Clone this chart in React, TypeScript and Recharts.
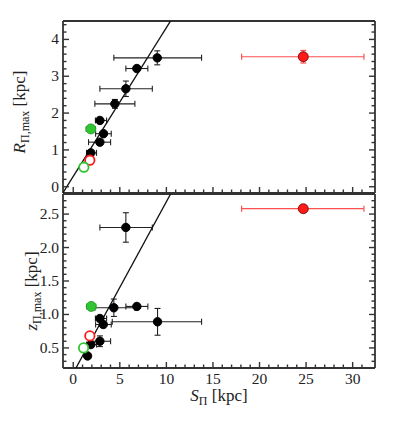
import { ErrorBar, Scatter, ScatterChart, XAxis, YAxis } from "recharts";

// S_Π [kpc] and R_Π,max [kpc], black galaxies (upper panel)
const topS = [9.02, 6.83, 5.65, 4.47, 2.86, 3.25, 2.86, 1.89];
const topSLo = [4.66, 1.18, 2.79, 2.15, 0.48, 0.85, 1.22, 0.46];
const topSHi = [4.76, 1.18, 2.84, 2.15, 0.72, 0.83, 1.15, 0.61];
const topR = [3.5, 3.21, 2.66, 2.25, 1.8, 1.44, 1.21, 0.92];
const topRErr = [0.19, 0.05, 0.21, 0.12, 0.05, 0.05, 0.05, 0.05];

// S_Π [kpc] and z_Π,max [kpc], black galaxies (lower panel)
const botS = [9.05, 6.83, 5.65, 4.36, 2.86, 3.22, 2.86, 1.89, 1.54];
const botSLo = [4.86, 1.18, 2.79, 2.04, 0.48, 0.82, 1.22, 0.46, 0.2];
const botSHi = [4.73, 1.18, 2.84, 2.26, 0.72, 0.86, 1.15, 0.61, 0.2];
const botZ = [0.89, 1.12, 2.3, 1.1, 0.94, 0.85, 0.6, 0.55, 0.38];
const botZErr = [0.2, 0.03, 0.22, 0.13, 0.03, 0.03, 0.08, 0.04, 0.02];

// special objects: [upper y, lower y], shared S
const greenFilledS = [1.89, 1.93];
const greenFilledY = [1.57, 1.12];
const redOpenS = [1.78, 1.78];
const redOpenY = [0.72, 0.68];
const greenOpenS = [1.14, 1.11];
const greenOpenY = [0.53, 0.5];
const redBigS = 24.7;
const redBigSLo = 6.62;
const redBigSHi = 6.51;
const redBigY = [3.53, 2.58];
const redBigYErr = [0.17, 0.02];

// fitted relations (slope, intercept)
const fitTop = [0.404, 0.28];
const fitBot = [0.256, 0.125];

const xDomain = [-1.1, 32.4];
const xTicks = Array.from({ length: 32 }, (_, i) => i);
const topTicks = Array.from({ length: 23 }, (_, i) => +(i * 0.2).toFixed(1));
const botTicks = Array.from({ length: 25 }, (_, i) => +(0.3 + i * 0.1).toFixed(1));

const FRAME = "#333";
const FONT = "'Liberation Serif', serif";
const GREEN = "#33c433";
const RED = "#ff1a1a";

const isMajor = (v: number, step: number) =>
  Math.abs(v / step - Math.round(v / step)) < 1e-6;

const xTick = (side: "top" | "bottom", labels: boolean) => (p: any) => {
  const v = p.payload.value;
  const major = isMajor(v, 5);
  const len = major ? 6 : 3.5;
  const dir = side === "bottom" ? -1 : 1;
  return (
    <g>
      <line x1={p.x} y1={p.y} x2={p.x} y2={p.y + dir * len} stroke={FRAME} strokeWidth={1.4} />
      {labels && major && (
        <text x={p.x} y={p.y + 16} textAnchor="middle" fontSize={15.5} fontFamily={FONT} fill="#222">
          {v}
        </text>
      )}
    </g>
  );
};

const yTick =
  (side: "left" | "right", step: number, fmt?: (v: number) => string) => (p: any) => {
    const v = p.payload.value;
    const major = isMajor(v, step);
    const len = major ? 6 : 3.5;
    const dir = side === "left" ? 1 : -1;
    return (
      <g>
        <line x1={p.x} y1={p.y} x2={p.x + dir * len} y2={p.y} stroke={FRAME} strokeWidth={1.4} />
        {fmt && major && (
          <text x={p.x - 4} y={p.y + 5} textAnchor="end" fontSize={15.5} fontFamily={FONT} fill="#222">
            {fmt(v)}
          </text>
        )}
      </g>
    );
  };

const dot = (r: number, fill: string, stroke: string, sw = 1) => (p: any) =>
  <circle cx={p.cx} cy={p.cy} r={r} fill={fill} stroke={stroke} strokeWidth={sw} />;

const rows = (xs: number[], ys: number[], lo: number[], hi: number[], ye: number[]) =>
  xs.map((x, i) => ({ x, y: ys[i], ex: [lo[i], hi[i]], ey: ye[i] }));

function Panel({
  height,
  margin,
  yDomain,
  yTicksList,
  yStep,
  yFmt,
  xLabels,
  idx,
  black,
  fit,
}: any) {
  const axisLine = { stroke: FRAME, strokeWidth: 1.8 };
  const fitData = xDomain.map((x) => ({ x, y: fit[0] * x + fit[1] }));
  return (
    <ScatterChart width={395} height={height} margin={margin}>
      <XAxis xAxisId="x" dataKey="x" type="number" domain={xDomain} allowDataOverflow
        ticks={xTicks} interval={0} height={1} tickSize={0} tickMargin={0}
        tickLine={false} axisLine={axisLine} tick={xTick("bottom", xLabels)} />
      <XAxis xAxisId="xt" orientation="top" type="number" domain={xDomain} allowDataOverflow
        ticks={xTicks} interval={0} height={1} tickSize={0} tickMargin={0}
        tickLine={false} axisLine={axisLine} tick={xTick("top", false)} />
      <YAxis yAxisId="y" dataKey="y" type="number" domain={yDomain} allowDataOverflow
        ticks={yTicksList} interval={0} width={1} tickSize={0} tickMargin={0}
        tickLine={false} axisLine={axisLine} tick={yTick("left", yStep, yFmt)} />
      <YAxis yAxisId="yr" orientation="right" type="number" domain={yDomain} allowDataOverflow
        ticks={yTicksList} interval={0} width={1} tickSize={0} tickMargin={0}
        tickLine={false} axisLine={axisLine} tick={yTick("right", yStep)} />

      <Scatter xAxisId="x" yAxisId="y" data={fitData} line={{ stroke: "#111", strokeWidth: 1.3 }}
        shape={() => <g />} isAnimationActive={false} />

      <Scatter xAxisId="x" yAxisId="y" data={black} shape={dot(4.2, "#000", "#000")} isAnimationActive={false}>
        <ErrorBar dataKey="ex" direction="x" width={3} stroke="#222" strokeWidth={1.1} />
        <ErrorBar dataKey="ey" direction="y" width={3} stroke="#222" strokeWidth={1.1} />
      </Scatter>

      <Scatter xAxisId="x" yAxisId="y"
        data={[{ x: greenFilledS[idx], y: greenFilledY[idx], ex: 0.5 }]}
        shape={dot(5, GREEN, "#1f8f1f", 0.8)} isAnimationActive={false}>
        <ErrorBar dataKey="ex" direction="x" width={3} stroke={GREEN} strokeWidth={1.1} />
      </Scatter>

      <Scatter xAxisId="x" yAxisId="y"
        data={[{ x: redOpenS[idx], y: redOpenY[idx], ex: 0.3, ey: 0.04 }]}
        shape={dot(4.7, "#fff", RED, 1.8)} isAnimationActive={false}>
        <ErrorBar dataKey="ex" direction="x" width={3} stroke={RED} strokeWidth={1.1} />
        <ErrorBar dataKey="ey" direction="y" width={3} stroke={RED} strokeWidth={1.1} />
      </Scatter>

      <Scatter xAxisId="x" yAxisId="y"
        data={[{ x: greenOpenS[idx], y: greenOpenY[idx] }]}
        shape={dot(4.7, "#fff", GREEN, 1.8)} isAnimationActive={false} />

      <Scatter xAxisId="x" yAxisId="y"
        data={[{ x: redBigS, y: redBigY[idx], ex: [redBigSLo, redBigSHi], ey: redBigYErr[idx] }]}
        shape={dot(5, RED, "#600", 0.8)} isAnimationActive={false}>
        <ErrorBar dataKey="ex" direction="x" width={3} stroke="#ff5050" strokeWidth={1.2} />
        <ErrorBar dataKey="ey" direction="y" width={3} stroke="#ff5050" strokeWidth={1.2} />
      </Scatter>
    </ScatterChart>
  );
}

export default function App() {
  return (
    <div style={{ position: "absolute", left: 0, top: 0, width: 395, height: 423, background: "#fff" }}>
      <div style={{ position: "absolute", left: 0, top: 0 }}>
        <Panel
          height={194}
          margin={{ top: 20, right: 19, bottom: 0, left: 62 }}
          yDomain={[-0.17, 4.5]}
          yTicksList={topTicks}
          yStep={1}
          yFmt={(v: number) => String(v)}
          xLabels={false}
          idx={0}
          black={rows(topS, topR, topSLo, topSHi, topRErr)}
          fit={fitTop}
        />
      </div>
      <div style={{ position: "absolute", left: 0, top: 193 }}>
        <Panel
          height={230}
          margin={{ top: 0, right: 19, bottom: 54, left: 62 }}
          yDomain={[0.2, 2.8]}
          yTicksList={botTicks}
          yStep={0.5}
          yFmt={(v: number) => v.toFixed(1)}
          xLabels={true}
          idx={1}
          black={rows(botS, botZ, botSLo, botSHi, botZErr)}
          fit={fitBot}
        />
      </div>
      <svg width={395} height={423} style={{ position: "absolute", left: 0, top: 0, pointerEvents: "none" }}>
        <text transform="translate(25,112) rotate(-90)" textAnchor="middle" fontFamily={FONT} fontSize={17} fill="#222">
          <tspan fontStyle="italic">R</tspan>
          <tspan fontSize={12} dy={4}>Π,max</tspan>
          <tspan dy={-4}> [kpc]</tspan>
        </text>
        <text transform="translate(37,291) rotate(-90)" textAnchor="middle" fontFamily={FONT} fontSize={17} fill="#222">
          <tspan fontStyle="italic">z</tspan>
          <tspan fontSize={12} dy={4}>Π,max</tspan>
          <tspan dy={-4}> [kpc]</tspan>
        </text>
        <text x={219} y={401} textAnchor="middle" fontFamily={FONT} fontSize={17} fill="#222">
          <tspan fontStyle="italic">S</tspan>
          <tspan fontSize={12} dy={4}>Π</tspan>
          <tspan dy={-4}> [kpc]</tspan>
        </text>
      </svg>
    </div>
  );
}
